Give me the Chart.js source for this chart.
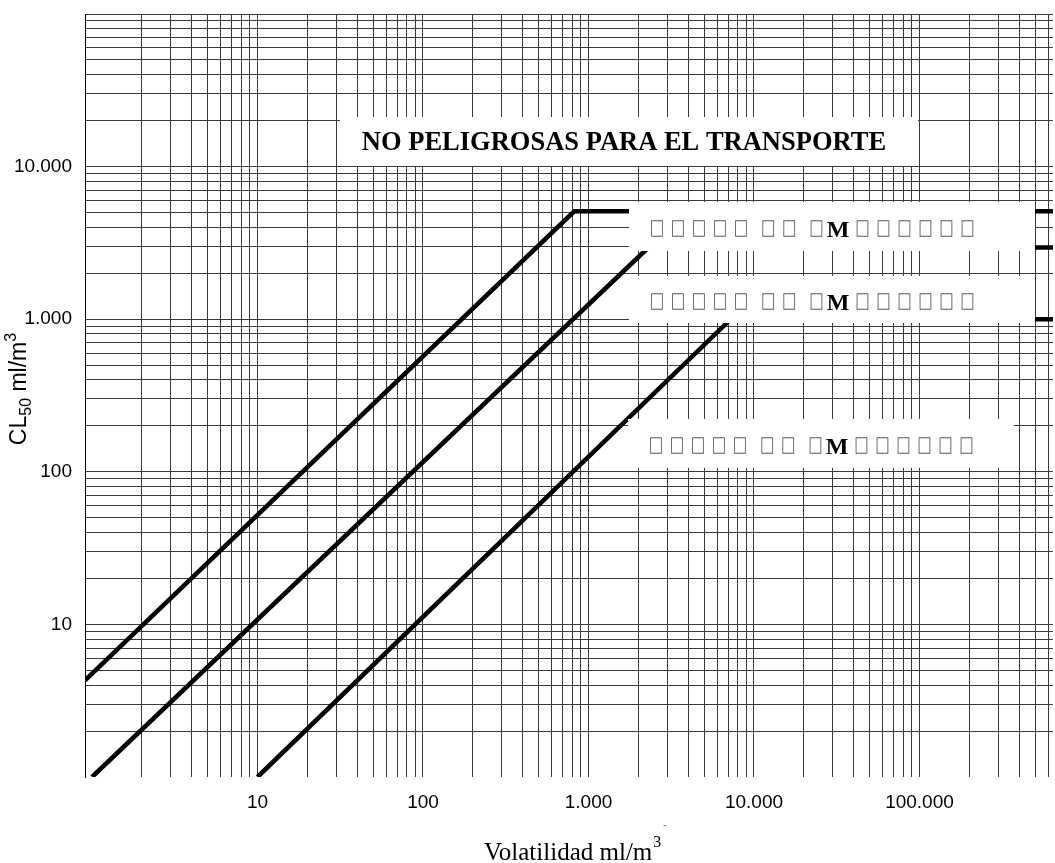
<!DOCTYPE html>
<html>
<head>
<meta charset="utf-8">
<script src="https://cdn.jsdelivr.net/npm/chart.js@4.4.1/dist/chart.umd.min.js"></script>
<style>
html,body{margin:0;padding:0;background:#fff;overflow:hidden}
#wrap{width:1055px;height:863px;position:relative}
</style>
</head>
<body>
<div id="wrap"><canvas id="c" width="1055" height="863"></canvas></div>
<script>
// ---------- data ----------
const xTickValues = [10, 100, 1000, 10000, 100000];
const xTickLabels = ['10', '100', '1.000', '10.000', '100.000'];
const yTickValues = [10, 100, 1000, 10000];
const yTickLabels = ['10', '100', '1.000', '10.000'];

const X_MIN = 0.907, X_MAX = 641000;
const Y_MIN = 1, Y_MAX = 100000;

// Volatility (ml/m3) and LC50 (ml/m3) of the three boundary lines
const groupI_V   = [0.907, 820, 641000];
const groupI_CL  = [4.3, 5100, 5100];
const groupII_V  = [1, 2300, 641000];
const groupII_CL = [1, 2950, 2950];
const groupIII_V  = [10, 7230, 641000];
const groupIII_CL = [1, 1000, 1000];

const titleText  = 'NO PELIGROSAS PARA EL TRANSPORTE';
const groupLabel = '\u25A1\u25A1\u25A1\u25A1\u25A1 \u25A1\u25A1 \u25A1M\u25A1\u25A1\u25A1\u25A1\u25A1\u25A1';
const xTitleMain = 'Volatilidad ml/m', xTitleSup = '3';
const yTitleParts = ['CL', '50', ' ml/m', '3'];

// ---------- annotation boxes (data coordinates) ----------
const BOXES = [
  {x0: 31.5, x1: 97950, y0: 10090, y1: 21130, kind: 'title'},
  {x0: 1757, x1: 498900, y0: 2800, y1: 5860, kind: 'group'},
  {x0: 1757, x1: 498900, y0: 944, y1: 1919, kind: 'group'},
  {x0: 1733, x1: 372400, y0: 106, y1: 222, kind: 'group'}
];

function pts(xs, ys){ return xs.map((v,i)=>({x:v, y:ys[i]})); }

function logGrid(min, max, skipBelow){
  const t = [];
  for (let e = -1; e <= 6; e++) {
    for (let k = 1; k < 10; k++) {
      const v = k * Math.pow(10, e);
      if (v >= min * 0.9999 && v <= max * 1.0001 && v >= skipBelow) t.push({value: v});
    }
  }
  return t;
}
function labelFor(values, labels, v){
  for (let i = 0; i < values.length; i++) if (Math.abs(values[i] - v) < 1e-6 * values[i]) return labels[i];
  return '';
}

const lineStyle = {borderColor:'#000', borderWidth:4.6, pointRadius:0, tension:0, fill:false, borderJoinStyle:'miter', borderCapStyle:'butt'};

// draws one box glyph stretched to a 13 x 17 cell (left edge at cx, centred on yMid)
function drawBoxGlyph(ctx, ch, cx, yMid){
  ctx.save();
  ctx.font = '20px "DejaVu Sans"';
  ctx.textAlign = 'left';
  ctx.textBaseline = 'alphabetic';
  const m = ctx.measureText(ch);
  const gw = (m.actualBoundingBoxLeft + m.actualBoundingBoxRight) || 12;
  const gh = (m.actualBoundingBoxAscent + m.actualBoundingBoxDescent) || 12;
  ctx.translate(cx, yMid - 8.5);
  ctx.scale(13 / gw, 17 / gh);
  ctx.fillStyle = '#5a5a5a';
  ctx.fillText(ch, m.actualBoundingBoxLeft, m.actualBoundingBoxAscent);
  ctx.restore();
}

function drawGroupLabel(ctx, str, x0, yMid){
  let cx = x0;
  for (const ch of str){
    if (ch === ' ') { cx += 6.3; continue; }
    if (ch === 'M') {
      ctx.save();
      ctx.font = 'bold 24px "Liberation Serif"';
      ctx.fillStyle = '#000';
      ctx.textAlign = 'left';
      ctx.textBaseline = 'alphabetic';
      const mm = ctx.measureText('M');
      cx -= 4.4;
      ctx.fillText('M', cx + mm.actualBoundingBoxLeft, yMid + 8);
      ctx.restore();
      cx += 29.2;
      continue;
    }
    drawBoxGlyph(ctx, ch, cx, yMid);
    cx += 21;
  }
}

const annotPlugin = {
  id: 'annot',
  afterDatasetsDraw(chart){
    const {ctx} = chart;
    const xs = chart.scales.x, ys = chart.scales.y;
    ctx.save();
    for (const b of BOXES){
      const l = xs.getPixelForValue(b.x0), r = xs.getPixelForValue(b.x1);
      const t = ys.getPixelForValue(b.y1), bt = ys.getPixelForValue(b.y0);
      ctx.fillStyle = '#fff';
      ctx.fillRect(l, t, r - l, bt - t);
      if (b.kind === 'title'){
        ctx.textBaseline = 'middle';
        ctx.font = 'bold 26.5px "Liberation Serif"';
        ctx.fillStyle = '#000';
        ctx.textAlign = 'center';
        ctx.fillText(titleText, (l + r) / 2 - 5, (t + bt) / 2 + 2);
      } else {
        drawGroupLabel(ctx, groupLabel, l + 21.5, (t + bt) / 2 + 2.5);
      }
    }
    ctx.restore();
  },
  afterDraw(chart){
    const {ctx} = chart;
    ctx.save();
    // y axis title (rotated, with subscript and superscript)
    ctx.translate(26, 389);
    ctx.rotate(-Math.PI / 2);
    const big = '23px "Liberation Sans"', small = '16px "Liberation Sans"';
    ctx.font = big; const w0 = ctx.measureText(yTitleParts[0]).width;
    ctx.font = small; const w1 = ctx.measureText(yTitleParts[1]).width;
    ctx.font = big; const w2 = ctx.measureText(yTitleParts[2]).width;
    ctx.font = small; const w3 = ctx.measureText(yTitleParts[3]).width;
    let cx = -(w0 + w1 + w2 + w3) / 2;
    ctx.fillStyle = '#000';
    ctx.textBaseline = 'alphabetic';
    ctx.textAlign = 'left';
    ctx.font = big; ctx.fillText(yTitleParts[0], cx, 0); cx += w0;
    ctx.font = small; ctx.fillText(yTitleParts[1], cx, 5); cx += w1;
    ctx.font = big; ctx.fillText(yTitleParts[2], cx, 0); cx += w2;
    ctx.font = small; ctx.fillText(yTitleParts[3], cx, -10);
    ctx.restore();

    // x axis title
    ctx.save();
    ctx.fillStyle = '#000';
    ctx.textBaseline = 'alphabetic';
    ctx.textAlign = 'left';
    ctx.font = '25px "Liberation Serif"';
    const mw = ctx.measureText(xTitleMain).width;
    const startX = 484;
    ctx.fillText(xTitleMain, startX, 860);
    ctx.font = '16px "Liberation Serif"';
    ctx.fillText(xTitleSup, startX + mw + 1, 847);
    // tiny stray dash above the title
    ctx.fillStyle = '#888';
    ctx.font = '12px "Liberation Serif"';
    ctx.fillText('-', 663, 829);
    ctx.restore();
  }
};

const GRID_COLOR = '#3a3a3a';

new Chart(document.getElementById('c'), {
  type: 'line',
  data: {
    datasets: [
      Object.assign({label:'I', data: pts(groupI_V, groupI_CL)}, lineStyle),
      Object.assign({label:'II', data: pts(groupII_V, groupII_CL)}, lineStyle),
      Object.assign({label:'III', data: pts(groupIII_V, groupIII_CL)}, lineStyle)
    ]
  },
  options: {
    responsive: false,
    animation: false,
    devicePixelRatio: 1,
    layout: {padding: {top: 14, right: 2, left: 0, bottom: 0}},
    plugins: {legend: {display: false}, tooltip: {enabled: false}, title: {display: false}},
    scales: {
      x: {
        type: 'logarithmic',
        min: X_MIN, max: X_MAX,
        afterBuildTicks: s => { s.ticks = logGrid(X_MIN, X_MAX, 2); },
        afterFit: s => { s.height = 86; s.paddingLeft = 0; s.paddingRight = 0; },
        border: {display: false},
        grid: {color: GRID_COLOR, lineWidth: 1, drawTicks: false},
        ticks: {
          autoSkip: false, maxRotation: 0, minRotation: 0, padding: 14,
          color: '#000', font: {family: '"Liberation Sans"', size: 19},
          callback: v => labelFor(xTickValues, xTickLabels, v)
        }
      },
      y: {
        type: 'logarithmic',
        min: Y_MIN, max: Y_MAX,
        afterBuildTicks: s => { s.ticks = logGrid(Y_MIN, Y_MAX, 1.5); },
        afterFit: s => { s.width = 85; s.paddingTop = 0; s.paddingBottom = 0; },
        border: {display: true, color: '#000', width: 1},
        grid: {color: GRID_COLOR, lineWidth: 1, drawTicks: false},
        ticks: {
          autoSkip: false, padding: 13,
          color: '#000', font: {family: '"Liberation Sans"', size: 19},
          callback: v => labelFor(yTickValues, yTickLabels, v)
        }
      }
    }
  },
  plugins: [annotPlugin]
});
</script>
</body>
</html>
